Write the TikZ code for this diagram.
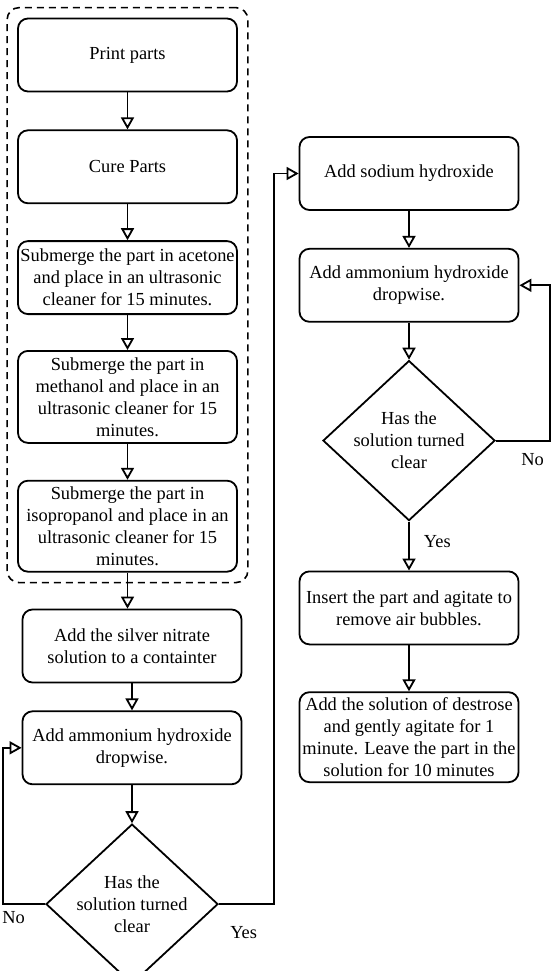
\documentclass[tikz,border=0pt]{standalone}
\usepackage{fontspec}
\setmainfont{Liberation Serif}
\usepackage{tikz}
\usetikzlibrary{shapes.geometric, arrows.meta, positioning, fit}
\newcommand{\stepfont}{\fontsize{18.4}{22}\selectfont}
\tikzstyle{process} = [rectangle, rounded corners=10pt, minimum width=219pt, minimum height=73pt, text centered, align=center, draw=black, line width=1.8pt, inner sep=1pt]
\tikzstyle{decision} = [diamond, aspect=1.075, minimum width=172pt, minimum height=160pt, align=center, draw=black, line width=1.8pt, inner sep=-2pt]
\tikzstyle{cleanbox} = [draw=black, dash pattern=on 7pt off 5pt, line width=1.6pt, rounded corners=12pt, inner sep=10pt]
\tikzstyle{arrow} = [line width=1.8pt, -{Triangle[open, length=12pt, width=13pt]}]
\tikzstyle{answer} = [inner sep=2pt]

\begin{document}
\begin{tikzpicture}[font=\stepfont]
    \useasboundingbox (0,0) rectangle (551pt,-971pt);

    % Nodes - cleaning of the printed part
    \node (print) [process] at (127.5pt,-55pt) {Print parts};
    \node (cure) [process, below=37pt of print] {Cure Parts};
    \node (acetone) [process, below=36pt of cure] {Submerge the part in acetone\\ and place in an ultrasonic\\ cleaner for 15 minutes.};
    \node (methanol) [process, minimum height=92pt, below=35pt of acetone] {Submerge the part in\\ methanol and place in an\\ ultrasonic cleaner for 15\\ minutes.};
    \node (isoprop) [process, minimum height=91pt, below=36pt of methanol] {Submerge the part in\\ isopropanol and place in an\\ ultrasonic cleaner for 15\\ minutes.};
    \node (cleaning) [cleanbox, fit=(print)(isoprop)] {};

    % Nodes - silver solution
    \node (silver) [process, below=36pt of isoprop, xshift=4.5pt] {Add the silver nitrate\\ solution to a containter};
    \node (ammonia1) [process, below=27pt of silver] {Add ammonium hydroxide\\ dropwise.};
    \node (clear1) [decision, below=38pt of ammonia1] {Has the\\ solution turned\\ clear};

    % Nodes - second column
    \node (sodium) [process] at (409pt,-173.5pt) {Add sodium hydroxide};
    \node (ammonia2) [process, below=37pt of sodium] {Add ammonium hydroxide\\ dropwise.};
    \node (clear2) [decision, below=37pt of ammonia2] {Has the\\ solution turned\\ clear};
    \node (insert) [process, below=49pt of clear2] {Insert the part and agitate to\\ remove air bubbles.};
    \node (dextrose) [process, minimum height=90pt, below=46pt of insert] {Add the solution of destrose\\ and gently agitate for 1\\ minute. Leave the part in the\\ solution for 10 minutes};

    % Arrows
    \draw [arrow] (print) -- (cure);
    \draw [arrow] (cure) -- (acetone);
    \draw [arrow] (acetone) -- (methanol);
    \draw [arrow] (methanol) -- (isoprop);
    \draw [arrow] (isoprop) -- (isoprop.south |- silver.north);
    \draw [arrow] (silver) -- (ammonia1);
    \draw [arrow] (ammonia1) -- (clear1);
    \draw [arrow] (clear1.west) -- node[answer, pos=0.75, below=4pt] {No} ++(-42pt,0) |- (ammonia1.west);
    \draw [arrow] (clear1.east) -- node[answer, pos=0.45, below=19pt] {Yes} ++(55pt,0) |- (sodium.west);
    \draw [arrow] (sodium) -- (ammonia2);
    \draw [arrow] (ammonia2) -- (clear2);
    \draw [arrow] (clear2.east) -- node[answer, pos=0.68, below=10pt] {No} ++(54pt,0) |- (ammonia2.east);
    \draw [arrow] (clear2) -- node[answer, pos=0.4, right=12pt] {Yes} (insert);
    \draw [arrow] (insert) -- (dextrose);
\end{tikzpicture}
\end{document}
